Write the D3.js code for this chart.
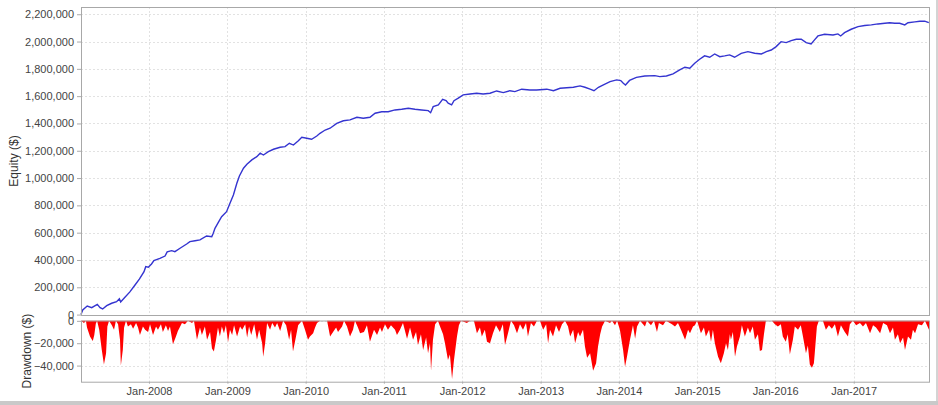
<!DOCTYPE html>
<html>
<head>
<meta charset="utf-8">
<script src="https://cdn.jsdelivr.net/npm/d3@7"></script>
<style>
  body { margin: 0; background: #fff; }
  svg { display: block; font-family: "Liberation Sans", Arial, sans-serif; }
</style>
</head>
<body>
<div id="chart"></div>
<script>
// equity curve: time in decimal years, value in $ thousands
var eqYear = [2007.132, 2007.153, 2007.212, 2007.268, 2007.340, 2007.374, 2007.409, 2007.460, 2007.524, 2007.587,
  2007.621, 2007.639, 2007.693, 2007.757, 2007.821, 2007.879, 2007.936, 2007.958, 2007.991, 2008.034,
  2008.063, 2008.140, 2008.204, 2008.234, 2008.290, 2008.332, 2008.396, 2008.482, 2008.524, 2008.588,
  2008.651, 2008.737, 2008.801, 2008.821, 2008.843, 2008.885, 2008.928, 2008.992, 2009.034, 2009.077,
  2009.120, 2009.153, 2009.204, 2009.248, 2009.312, 2009.376, 2009.418, 2009.460, 2009.524, 2009.588,
  2009.673, 2009.737, 2009.792, 2009.843, 2009.907, 2009.950, 2010.014, 2010.078, 2010.142, 2010.184,
  2010.248, 2010.312, 2010.397, 2010.481, 2010.567, 2010.653, 2010.737, 2010.822, 2010.886, 2010.972,
  2011.056, 2011.142, 2011.227, 2011.312, 2011.397, 2011.483, 2011.567, 2011.598, 2011.631, 2011.695,
  2011.751, 2011.793, 2011.822, 2011.866, 2011.895, 2011.950, 2012.014, 2012.100, 2012.185, 2012.269,
  2012.355, 2012.441, 2012.525, 2012.611, 2012.674, 2012.760, 2012.866, 2012.951, 2013.079, 2013.164,
  2013.249, 2013.335, 2013.419, 2013.505, 2013.568, 2013.632, 2013.683, 2013.738, 2013.802, 2013.888,
  2013.973, 2014.024, 2014.058, 2014.084, 2014.137, 2014.224, 2014.331, 2014.459, 2014.522, 2014.607,
  2014.692, 2014.778, 2014.842, 2014.905, 2014.969, 2015.033, 2015.097, 2015.161, 2015.225, 2015.289,
  2015.352, 2015.416, 2015.480, 2015.564, 2015.650, 2015.736, 2015.820, 2015.884, 2015.948, 2016.011,
  2016.075, 2016.139, 2016.203, 2016.267, 2016.331, 2016.395, 2016.458, 2016.502, 2016.544, 2016.630,
  2016.736, 2016.800, 2016.834, 2016.885, 2016.969, 2017.055, 2017.140, 2017.225, 2017.310, 2017.396,
  2017.460, 2017.524, 2017.587, 2017.651, 2017.693, 2017.779, 2017.843, 2017.907, 2017.958];
var eqValue = [0, 34, 63, 51, 75, 51, 41, 65, 83, 95,
  116, 92, 127, 166, 217, 261, 314, 351, 347, 371,
  396, 412, 429, 459, 468, 461, 486, 517, 534, 541,
  547, 576, 571, 596, 632, 673, 717, 754, 815, 876,
  962, 1015, 1072, 1101, 1133, 1157, 1182, 1169, 1193, 1211,
  1226, 1230, 1255, 1242, 1274, 1299, 1292, 1284, 1308, 1328,
  1352, 1365, 1401, 1420, 1426, 1445, 1438, 1445, 1475, 1486,
  1486, 1499, 1504, 1511, 1504, 1499, 1494, 1479, 1523, 1536,
  1577, 1567, 1548, 1536, 1567, 1585, 1609, 1616, 1621, 1616,
  1621, 1638, 1626, 1640, 1633, 1651, 1645, 1645, 1651, 1640,
  1658, 1662, 1665, 1675, 1665, 1651, 1640, 1665, 1682, 1706,
  1719, 1714, 1694, 1682, 1715, 1738, 1748, 1750, 1743, 1748,
  1763, 1792, 1812, 1804, 1841, 1870, 1895, 1885, 1909, 1889,
  1895, 1902, 1885, 1914, 1926, 1914, 1909, 1926, 1938, 1963,
  1999, 1992, 2007, 2017, 2017, 1992, 1982, 2012, 2041, 2053,
  2048, 2056, 2041, 2065, 2090, 2109, 2117, 2122, 2129, 2134,
  2138, 2134, 2134, 2122, 2138, 2144, 2149, 2149, 2138];

// drawdown: time in decimal years, depth in $ thousands (drawn negative)
var ddYear = [2007.132, 2007.170, 2007.195, 2007.208, 2007.246, 2007.281, 2007.301, 2007.319, 2007.336, 2007.365,
  2007.396, 2007.425, 2007.451, 2007.467, 2007.489, 2007.527, 2007.553, 2007.579, 2007.604, 2007.630,
  2007.642, 2007.664, 2007.681, 2007.706, 2007.732, 2007.770, 2007.796, 2007.834, 2007.860, 2007.885,
  2007.923, 2007.949, 2007.987, 2008.013, 2008.051, 2008.089, 2008.115, 2008.153, 2008.179, 2008.217,
  2008.243, 2008.268, 2008.307, 2008.345, 2008.370, 2008.421, 2008.460, 2008.498, 2008.549, 2008.575,
  2008.613, 2008.651, 2008.677, 2008.715, 2008.741, 2008.779, 2008.805, 2008.830, 2008.856, 2008.881,
  2008.907, 2008.932, 2008.958, 2008.983, 2009.009, 2009.034, 2009.060, 2009.085, 2009.124, 2009.162,
  2009.188, 2009.226, 2009.252, 2009.277, 2009.303, 2009.341, 2009.379, 2009.405, 2009.443, 2009.456,
  2009.481, 2009.507, 2009.545, 2009.571, 2009.609, 2009.635, 2009.673, 2009.711, 2009.750, 2009.788,
  2009.814, 2009.839, 2009.877, 2009.903, 2009.928, 2009.954, 2009.992, 2010.031, 2010.056, 2010.095,
  2010.120, 2010.146, 2010.184, 2010.273, 2010.312, 2010.350, 2010.388, 2010.414, 2010.465, 2010.490,
  2010.529, 2010.567, 2010.605, 2010.631, 2010.669, 2010.695, 2010.746, 2010.784, 2010.822, 2010.873,
  2010.912, 2010.950, 2010.976, 2011.014, 2011.052, 2011.090, 2011.142, 2011.167, 2011.206, 2011.244,
  2011.295, 2011.333, 2011.372, 2011.410, 2011.436, 2011.474, 2011.500, 2011.538, 2011.563, 2011.589,
  2011.602, 2011.628, 2011.653, 2011.691, 2011.716, 2011.755, 2011.780, 2011.818, 2011.844, 2011.870,
  2011.895, 2011.934, 2011.959, 2011.985, 2012.061, 2012.100, 2012.151, 2012.189, 2012.227, 2012.253,
  2012.291, 2012.317, 2012.355, 2012.393, 2012.432, 2012.483, 2012.521, 2012.547, 2012.585, 2012.623,
  2012.662, 2012.700, 2012.738, 2012.777, 2012.815, 2012.841, 2012.879, 2012.917, 2012.955, 2012.994,
  2013.032, 2013.070, 2013.096, 2013.121, 2013.160, 2013.198, 2013.236, 2013.275, 2013.313, 2013.351,
  2013.377, 2013.415, 2013.441, 2013.479, 2013.505, 2013.543, 2013.568, 2013.594, 2013.632, 2013.670,
  2013.709, 2013.734, 2013.760, 2013.786, 2013.824, 2013.888, 2013.913, 2013.951, 2013.977, 2014.015,
  2014.054, 2014.079, 2014.105, 2014.143, 2014.181, 2014.207, 2014.232, 2014.271, 2014.335, 2014.360,
  2014.411, 2014.450, 2014.488, 2014.513, 2014.565, 2014.603, 2014.679, 2014.718, 2014.756, 2014.794,
  2014.845, 2014.883, 2014.909, 2014.947, 2014.972, 2014.998, 2015.050, 2015.088, 2015.113, 2015.152,
  2015.177, 2015.203, 2015.228, 2015.267, 2015.305, 2015.343, 2015.369, 2015.394, 2015.420, 2015.433,
  2015.458, 2015.484, 2015.509, 2015.548, 2015.573, 2015.611, 2015.650, 2015.675, 2015.713, 2015.739,
  2015.777, 2015.803, 2015.829, 2015.854, 2015.880, 2015.956, 2015.994, 2016.033, 2016.071, 2016.097,
  2016.135, 2016.160, 2016.186, 2016.224, 2016.250, 2016.289, 2016.327, 2016.352, 2016.391, 2016.416,
  2016.442, 2016.467, 2016.492, 2016.505, 2016.531, 2016.557, 2016.608, 2016.646, 2016.684, 2016.723,
  2016.761, 2016.799, 2016.837, 2016.888, 2016.927, 2016.952, 2016.991, 2017.029, 2017.080, 2017.119,
  2017.157, 2017.208, 2017.246, 2017.284, 2017.336, 2017.374, 2017.425, 2017.463, 2017.502, 2017.527,
  2017.565, 2017.591, 2017.629, 2017.655, 2017.693, 2017.732, 2017.757, 2017.783, 2017.821, 2017.872,
  2017.910, 2017.962];
var ddValue = [0, 2, 0, 6, 14, 18, 12.6, 2.6, 0, 8,
  26, 39, 29, 5, 0, 4, 8, 0, 3, 17,
  40, 26, 6, 0, 5, 3, 7, 2, 6, 12.6,
  5, 8, 10, 3, 12.6, 5, 8, 3, 10, 4,
  9, 5, 21, 14, 9, 2, 3, 0, 2, 0,
  17, 6, 12.6, 5, 17, 10, 24.7, 27.5, 17, 6,
  14, 5, 11, 4, 19, 8, 12.6, 4, 14, 5,
  8, 3, 15, 5, 12.6, 3, 17, 8, 20, 32,
  20, 2, 8, 2, 6, 2, 9, 0, 4, 17,
  8, 27.5, 14, 4, 2, 0, 8, 17, 14, 11,
  6, 2, 0, 0, 14, 10, 6, 10, 5, 0,
  5, 14, 8, 0, 6, 11, 10, 4, 18.6, 8,
  12.6, 6, 10, 3, 8, 4, 8, 12.6, 8, 2,
  16, 6, 17, 10, 21.5, 12, 26, 15, 29, 20,
  44.7, 17, 3, 0, 5, 12, 20, 35, 30, 52,
  35, 14, 4, 0, 2, 0, 0, 11, 6, 14,
  8, 18.6, 20, 11, 4, 10, 3, 21.5, 11, 0,
  4, 11, 3, 8, 2, 14, 2, 5, 0, 0,
  8, 3, 20, 8, 14, 4, 10, 3, 0, 5,
  14, 8, 20, 10, 14, 8, 23, 33, 29, 44.7,
  38, 23, 12, 5, 0, 2, 0, 4, 0, 8,
  26, 41, 32, 17, 4, 16, 5, 0, 5, 0,
  4, 0, 10, 2, 4, 0, 3, 5, 2, 8,
  17, 8, 11, 5, 4, 0, 11, 6, 14, 8,
  18.6, 8, 20, 32, 38, 29, 20, 26, 12, 17,
  10, 32, 23, 14, 4, 14, 6, 11, 5, 17,
  12, 27, 26, 12, 0, 0, 3, 5, 3, 14,
  18.6, 12, 30, 17, 5, 8, 4, 14, 29, 22,
  39, 42, 38, 29, 5, 0, 0, 8, 4, 7,
  3, 14, 4, 10, 14, 3, 0, 4, 2, 5,
  2, 11, 4, 6, 11, 2, 4, 11, 6, 17,
  12, 20, 15, 26, 14, 17, 8, 11, 3, 4,
  0, 8];

var eqTicks = [0, 200000, 400000, 600000, 800000, 1000000, 1200000, 1400000, 1600000, 1800000, 2000000, 2200000];
var ddTicks = [0, -20000, -40000];
var yearTicks = [2008, 2009, 2010, 2011, 2012, 2013, 2014, 2015, 2016, 2017];

function toDate(y) {
  var yr = Math.floor(y);
  return new Date(yr, 0, 1 + Math.round((y - yr) * 365.25));
}

var width = 938, height = 405;
var left = 81, right = 929;
var eqTop = 7, eqBottom = 315;
var ddTop = 320.5, ddBottom = 381.7;

var svg = d3.select("#chart").append("svg")
  .attr("width", width)
  .attr("height", height);

// bottom gray strip and right edge like the original window
svg.append("rect").attr("x", 0).attr("y", 401).attr("width", width).attr("height", 4).attr("fill", "#c9c9c9");
svg.append("rect").attr("x", 936).attr("y", 0).attr("width", 2).attr("height", 401).attr("fill", "#d4d4d4");

var x = d3.scaleTime()
  .domain([toDate(2007.132), toDate(2017.962)])
  .range([left, right]);

var yEq = d3.scaleLinear().domain([-3000, 2253000]).range([eqBottom, eqTop]);
var yDd = d3.scaleLinear().domain([-54400, 300]).range([ddBottom, ddTop]);

var yearDates = yearTicks.map(function(y) { return new Date(y, 0, 1); });

function panel(top, bottom, yScale, ticks) {
  var g = svg.append("g");
  g.append("rect")
    .attr("x", left).attr("y", top)
    .attr("width", right - left).attr("height", bottom - top)
    .attr("fill", "#fff");
  g.selectAll(".vgrid")
    .data(yearDates)
    .enter().append("line")
    .attr("x1", function(d) { return Math.round(x(d)) + 0.5; })
    .attr("x2", function(d) { return Math.round(x(d)) + 0.5; })
    .attr("y1", top).attr("y2", bottom)
    .attr("stroke", "#e2e2e2")
    .attr("stroke-dasharray", "2,2");
  g.selectAll(".hgrid")
    .data(ticks)
    .enter().append("line")
    .attr("x1", left).attr("x2", right)
    .attr("y1", function(d) { return Math.round(yScale(d)) + 0.5; })
    .attr("y2", function(d) { return Math.round(yScale(d)) + 0.5; })
    .attr("stroke", "#e2e2e2")
    .attr("stroke-dasharray", "2,2");
  var axis = svg.append("g")
    .attr("transform", "translate(" + left + ",0)")
    .call(d3.axisLeft(yScale).tickValues(ticks).tickFormat(d3.format(",")).tickSize(4).tickPadding(3));
  axis.select(".domain").remove();
  axis.selectAll("line").attr("stroke", "#aaa");
  axis.selectAll("text").attr("font-size", 11).attr("fill", "#444")
    .attr("font-family", "'Liberation Sans', Arial, sans-serif");
  return g;
}

var gEq = panel(eqTop, eqBottom, yEq, eqTicks);
var gDd = panel(ddTop, ddBottom, yDd, ddTicks);

var eqData = eqYear.map(function(d, i) { return { date: toDate(d), value: eqValue[i] * 1000 }; });
var ddData = ddYear.map(function(d, i) { return { date: toDate(d), value: -ddValue[i] * 1000 }; });

gDd.append("path")
  .datum(ddData)
  .attr("fill", "#ff0000")
  .attr("d", d3.area()
    .x(function(d) { return x(d.date); })
    .y0(yDd(0))
    .y1(function(d) { return yDd(d.value); }));

gEq.append("path")
  .datum(eqData)
  .attr("fill", "none")
  .attr("stroke", "#3434d0")
  .attr("stroke-width", 1.4)
  .attr("d", d3.line()
    .x(function(d) { return x(d.date); })
    .y(function(d) { return yEq(d.value); }));

// plot outlines
[[eqTop, eqBottom], [ddTop, ddBottom]].forEach(function(p) {
  svg.append("rect")
    .attr("x", left + 0.5).attr("y", p[0] + 0.5)
    .attr("width", right - left).attr("height", p[1] - p[0])
    .attr("fill", "none")
    .attr("stroke", "#a8a8a8");
});

var xAxis = svg.append("g")
  .attr("transform", "translate(0," + ddBottom + ")")
  .call(d3.axisBottom(x).tickValues(yearDates).tickFormat(d3.timeFormat("Jan-%Y")).tickSize(2).tickPadding(4));
xAxis.select(".domain").remove();
xAxis.selectAll("line").attr("stroke", "#aaa");
xAxis.selectAll("text").attr("font-size", 11).attr("fill", "#444")
  .attr("font-family", "'Liberation Sans', Arial, sans-serif");

svg.append("text")
  .attr("transform", "translate(18," + ((eqTop + eqBottom) / 2) + ") rotate(-90)")
  .attr("text-anchor", "middle")
  .attr("font-size", 12)
  .attr("fill", "#333")
  .text("Equity ($)");

svg.append("text")
  .attr("transform", "translate(31," + ((ddTop + ddBottom) / 2) + ") rotate(-90)")
  .attr("text-anchor", "middle")
  .attr("font-size", 12)
  .attr("fill", "#333")
  .text("Drawdown ($)");
</script>
</body>
</html>
